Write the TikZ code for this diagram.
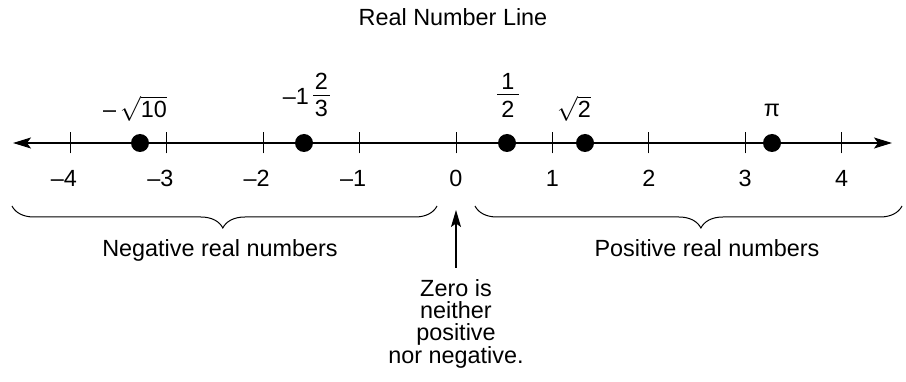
\documentclass[tikz,border=0pt]{standalone}
\usepackage{fontspec}
\setmainfont{Liberation Sans}
\usetikzlibrary{arrows.meta,decorations.pathreplacing}
\begin{document}
\begin{tikzpicture}[x=1pt,y=-1pt,
  lbl/.style={font=\fontsize{23.4}{21.8}\selectfont, inner sep=0pt},
  axisline/.style={line width=1.3pt,
    {Stealth[length=18pt,width=11pt,inset=4pt]}-{Stealth[length=18pt,width=11pt,inset=4pt]}},
  tickmark/.style={line width=1pt},
  ptdot/.style={circle, fill=black, minimum size=18pt, inner sep=0pt},
  fracbar/.style={line width=1.3pt},
  bracestyle/.style={decorate, line width=1pt,
    decoration={brace, mirror, amplitude=22pt}},
  uparrow/.style={line width=1.1pt, -{Stealth[length=17pt,width=10pt,inset=3.5pt]}}
]
\useasboundingbox (0,0) rectangle (906,382);

% title
\node[lbl, anchor=base] (title) at (453,26) {Real Number Line};

% axis
\coordinate (axL) at (13,143);
\coordinate (axR) at (892,143);
\draw[axisline] (axL) -- (axR);

% ticks and numbers
\foreach \n in {-4,...,4} {
  \coordinate (t\n) at ({456+96.4*\n},143);
  \draw[tickmark] ([yshift=-10.5pt]t\n) -- ([yshift=10.5pt]t\n);
}
\foreach \n/\s in {-4/4,-3/3,-2/2,-1/1} {
  \node[lbl, anchor=base] (n\s m) at ({456+96.4*\n},187) {\llap{–}\s};
}
\foreach \n in {0,...,4} {
  \node[lbl, anchor=base] (n\n p) at ({456+96.4*\n},187) {\n};
}

% points
\node[ptdot] (dsq10) at (140,143) {};
\node[ptdot] (dmix)  at (304,143) {};
\node[ptdot] (dhalf) at (507,143) {};
\node[ptdot] (dsq2)  at (585,143) {};
\node[ptdot] (dpi)   at (772,143) {};

% labels above
\node[lbl, anchor=base] (lsq10) at (135,118) {–\,$\sqrt{\hbox{10}}$};
\node[lbl, anchor=base east] (lmix) at (309,105) {–1};
\node[lbl, anchor=base] (lmixn) at (321.5,90) {2};
\node[lbl, anchor=base] (lmixd) at (321.5,117) {3};
\draw[fracbar] (313,95.5) -- (330,95.5);
\node[lbl, anchor=base] (lhalfn) at (508,90) {1};
\node[lbl, anchor=base] (lhalfd) at (508,118) {2};
\draw[fracbar] (497,94.5) -- (519,94.5);
\node[lbl, anchor=base] (lsq2) at (574,118) {$\sqrt{\hbox{2}}$};
\node[lbl, anchor=base] (lpi) at (772,117) {π};

% braces
\coordinate (bl1) at (12,206);
\coordinate (bl2) at (437,206);
\coordinate (br1) at (475,206);
\coordinate (br2) at (902,206);
\draw[bracestyle, decoration={aspect=0.496}] (bl1) -- (bl2);
\draw[bracestyle, decoration={aspect=0.529}] (br1) -- (br2);

\node[lbl, anchor=base] (neg) at (220,257) {Negative real numbers};
\node[lbl, anchor=base] (pos) at (707,257) {Positive real numbers};

% zero note
\node[lbl, align=center, anchor=north, outer ysep=12pt] (zero) at (456,268)
  {Zero is\\neither\\positive\\nor negative.};
\coordinate (zerotip) at (456,210);
\draw[uparrow] (zero.north) -- (zerotip);
\end{tikzpicture}
\end{document}
